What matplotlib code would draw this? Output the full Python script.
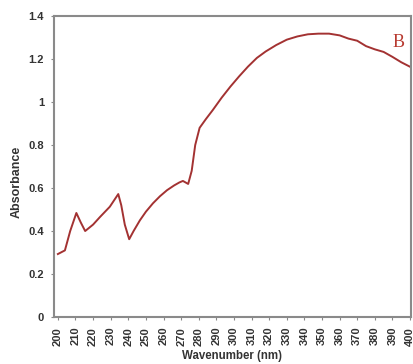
import matplotlib
matplotlib.use('Agg')
import matplotlib.pyplot as plt

# absorbance spectrum, sample B
wavelength = [200, 204, 207, 210.5, 213, 215.5, 220, 224, 229.5, 234.3, 236, 238,
              240.5, 243, 246.6, 250, 254, 258, 262, 266, 269, 271, 274, 276, 278,
              280.5, 284, 288, 293, 298, 303, 308, 313, 318, 324, 330, 336, 342,
              348, 354, 360, 365, 370, 375, 380, 385, 390, 395, 400]
absorbance = [0.293, 0.31, 0.40, 0.484, 0.44, 0.40, 0.43, 0.466, 0.513, 0.572, 0.52, 0.43,
              0.362, 0.40, 0.45, 0.49, 0.529, 0.562, 0.59, 0.612, 0.626, 0.633, 0.619, 0.68, 0.80,
              0.88, 0.92, 0.963, 1.02, 1.072, 1.12, 1.165, 1.205, 1.235, 1.265, 1.29, 1.305, 1.315,
              1.318, 1.318, 1.31, 1.295, 1.285, 1.26, 1.245, 1.233, 1.21, 1.185, 1.164]

xticks = list(range(200, 401, 10))
yticks = [0, 0.2, 0.4, 0.6, 0.8, 1.0, 1.2, 1.4]
ylabels = ['0', '0.2', '0.4', '0.6', '0.8', '1', '1.2', '1.4']

plt.rcParams['font.family'] = ['Liberation Sans', 'DejaVu Sans']

fig = plt.figure(figsize=(4.14, 3.64), dpi=100)
ax = fig.add_axes([0.130, 0.129, 0.863, 0.827])

ax.plot(wavelength, absorbance, color='#a33232', lw=1.4)

ax.set_xlim(197.7, 400.6)
ax.set_ylim(0, 1.4)
ax.set_xticks(xticks)
ax.set_xticklabels([str(t) for t in xticks], rotation=90, fontsize=8,
                   fontweight='bold', color='#333333')
ax.set_yticks(yticks)
ax.set_yticklabels(ylabels, fontsize=8, fontweight='bold', color='#333333')
ax.tick_params(axis='both', length=2.5, width=0.8, color='#888888', pad=4.5)

for sp in ax.spines.values():
    sp.set_color('#8a8a8a')
    sp.set_linewidth(1.5)

ax.set_xlabel('Wavenumber (nm)', fontsize=8.3, fontweight='bold', color='#333333',
              va='center')
ax.xaxis.set_label_coords(0.5, -0.128)
ax.set_ylabel('Absorbance', fontsize=9, fontweight='bold', color='#333333',
              va='center')
ax.yaxis.set_label_coords(-0.104, 0.449)

ax.text(0.965, 0.912, 'B', transform=ax.transAxes, ha='center', va='center',
        fontsize=13, color='#b83a30', family='Liberation Serif')

fig.savefig('out.png', dpi=100)
